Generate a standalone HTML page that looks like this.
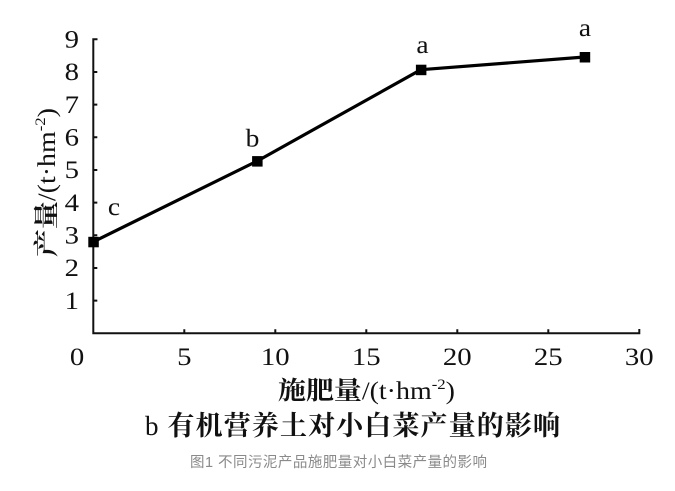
<!DOCTYPE html>
<html>
<head>
<meta charset="utf-8">
<style>
html,body{margin:0;padding:0;background:#fff;}
svg{display:block;}
.s{font-family:"Liberation Serif","Noto Serif CJK SC",serif;}
</style>
</head>
<body>
<svg width="675" height="491" viewBox="0 0 675 491" xmlns="http://www.w3.org/2000/svg">
<rect width="675" height="491" fill="#fff"/>
<!-- axes -->
<g stroke="#111" stroke-width="2" fill="none">
<path d="M97.5,39.3 H93.3 V333.3 H639.3 V329"/>
<path d="M93.3,300.6 h4 M93.3,268 h4 M93.3,235.3 h4 M93.3,202.6 h4 M93.3,170 h4 M93.3,137.3 h4 M93.3,104.6 h4 M93.3,72 h4"/>
<path d="M184.3,333.3 v-4 M275.3,333.3 v-4 M366.3,333.3 v-4 M457.3,333.3 v-4 M548.3,333.3 v-4"/>
</g>
<!-- y labels -->
<g class="s" font-size="25" fill="#111" text-anchor="end">
<text transform="translate(79,308.8) scale(1.15,1)">1</text>
<text transform="translate(79,276.2) scale(1.15,1)">2</text>
<text transform="translate(79,243.5) scale(1.15,1)">3</text>
<text transform="translate(79,210.8) scale(1.15,1)">4</text>
<text transform="translate(79,178.2) scale(1.15,1)">5</text>
<text transform="translate(79,145.5) scale(1.15,1)">6</text>
<text transform="translate(79,112.8) scale(1.15,1)">7</text>
<text transform="translate(79,80.2) scale(1.15,1)">8</text>
<text transform="translate(79,47.5) scale(1.15,1)">9</text>
</g>
<!-- x labels -->
<g class="s" font-size="25" fill="#111" text-anchor="middle">
<text transform="translate(77,365) scale(1.15,1)">0</text>
<text transform="translate(184.3,365) scale(1.15,1)">5</text>
<text transform="translate(275.3,365) scale(1.15,1)">10</text>
<text transform="translate(366.3,365) scale(1.15,1)">15</text>
<text transform="translate(457.3,365) scale(1.15,1)">20</text>
<text transform="translate(548.3,365) scale(1.15,1)">25</text>
<text transform="translate(639.3,365) scale(1.15,1)">30</text>
</g>
<!-- series -->
<polyline points="93.3,241.8 257.1,161.1 420.9,69.7 584.7,57" fill="none" stroke="#000" stroke-width="3.2" stroke-linejoin="round"/>
<g fill="#000">
<rect x="88.3" y="236.8" width="10.5" height="10.5"/>
<rect x="252.1" y="156.1" width="10.5" height="10.5"/>
<rect x="415.9" y="64.7" width="10.5" height="10.5"/>
<rect x="579.7" y="52" width="10.5" height="10.5"/>
</g>
<!-- significance letters -->
<g class="s" font-size="25" fill="#111" text-anchor="middle">
<text transform="translate(114,215) scale(1.1,1)">c</text>
<text transform="translate(252.5,146.7) scale(1.1,1)">b</text>
<text transform="translate(422.5,53) scale(1.1,1)">a</text>
<text transform="translate(585,36) scale(1.1,1)">a</text>
</g>
<!-- y title -->
<text class="s" font-size="25" fill="#111" text-anchor="middle" transform="translate(55,182.5) rotate(-90)" textLength="149" lengthAdjust="spacingAndGlyphs"><tspan font-weight="bold">产量</tspan>/(t·hm<tspan font-size="15" dy="-10">-2</tspan><tspan dy="10">)</tspan></text>
<!-- x title -->
<text class="s" font-size="25" fill="#111" text-anchor="middle" x="366.5" y="399" textLength="177" lengthAdjust="spacingAndGlyphs"><tspan font-weight="bold">施肥量</tspan>/(t·hm<tspan font-size="15" dy="-10">-2</tspan><tspan dy="10">)</tspan></text>
<!-- subtitle -->
<text class="s" font-size="27" fill="#111" x="145" y="435" textLength="415" lengthAdjust="spacing">b <tspan font-weight="bold">有机营养土对小白菜产量的影响</tspan></text>
<!-- caption -->
<text font-family="'Liberation Sans','Noto Sans CJK SC',sans-serif" font-size="14.5" fill="#8a8a8a" x="190" y="467" textLength="297" lengthAdjust="spacing">图1 不同污泥产品施肥量对小白菜产量的影响</text>
</svg>
</body>
</html>
